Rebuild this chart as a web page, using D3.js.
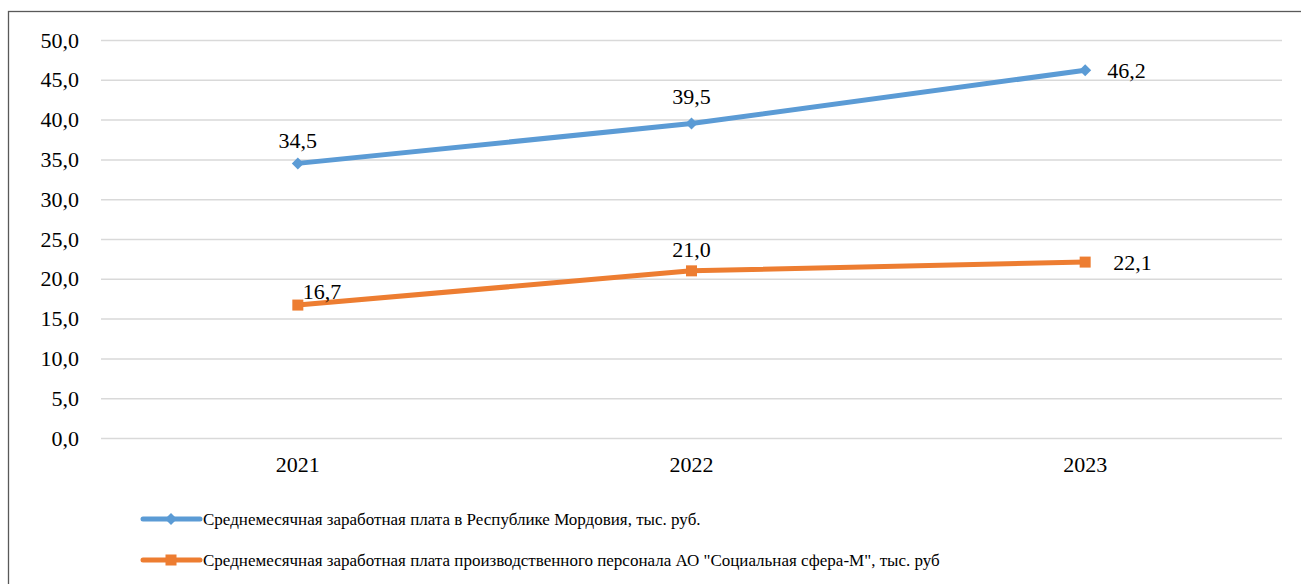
<!DOCTYPE html>
<html><head><meta charset="utf-8">
<script src="https://cdn.jsdelivr.net/npm/d3@7"></script>
</head><body style="margin:0"><svg id="c" width="1301" height="584" style="display:block"></svg>
<script>
const categories = ["2021", "2022", "2023"];
const seriesNames = [
  "Среднемесячная заработная плата в Республике Мордовия, тыс. руб.",
  "Среднемесячная заработная плата производственного персонала АО \"Социальная сфера-М\", тыс. руб"
];
const mordoviaValues = [34.5, 39.5, 46.2];
const staffValues = [16.7, 21.0, 22.1];
const yTicks = [0, 5, 10, 15, 20, 25, 30, 35, 40, 45, 50];

(function () {
const svg = d3.select("#c");
const FONT = "Liberation Serif";
const fmt = v => d3.format(".1f")(v).replace(".", ",");

svg.append("rect").attr("x", 8.5).attr("y", 11.5).attr("width", 1320).attr("height", 620)
  .attr("fill", "#fff").attr("stroke", "#595959").attr("stroke-width", 1.3);

const pLeft = 101, pRight = 1282, pTop = 40, pBottom = 438;
const x = d3.scaleBand().domain(categories).range([pLeft, pRight]);
const y = d3.scaleLinear().domain([0, 50]).range([pBottom, pTop]);

const gy = svg.append("g").attr("transform", `translate(${pLeft},0)`)
  .call(d3.axisLeft(y).tickValues(yTicks).tickSize(-(pRight - pLeft)).tickFormat(fmt).tickPadding(22));
gy.attr("font-family", FONT).attr("font-size", 22);
gy.select(".domain").remove();
gy.selectAll(".tick line").attr("stroke", "#d9d9d9").attr("stroke-width", 1.5);
gy.selectAll(".tick text").attr("fill", "#000");

const gx = svg.append("g").attr("transform", `translate(0,${pBottom})`)
  .call(d3.axisBottom(x).tickSize(0).tickPadding(18));
gx.attr("font-family", FONT).attr("font-size", 22);
gx.select(".domain").remove();
gx.selectAll(".tick text").attr("fill", "#000");

const cx = d => x(d) + x.bandwidth() / 2;
const series = [
  {name: seriesNames[0], values: mordoviaValues, color: "#5B9BD5", marker: "diamond",
   labelPos: [[0, -23, "middle"], [0, -27, "middle"], [22, 0, "start"]]},
  {name: seriesNames[1], values: staffValues, color: "#ED7D31", marker: "square",
   labelPos: [[5, -14, "start"], [0, -22, "middle"], [28, 0, "start"]]}
];
const line = d3.line().x((d, i) => cx(categories[i])).y(d => y(d));

function drawMarker(g, type, px, py, color) {
  if (type === "diamond") {
    g.append("path").attr("d", `M${px - 6},${py} L${px},${py - 6} L${px + 6},${py} L${px},${py + 6} Z`).attr("fill", color);
  } else {
    g.append("rect").attr("x", px - 5.5).attr("y", py - 5.5).attr("width", 11).attr("height", 11).attr("fill", color);
  }
}

series.forEach(s => {
  svg.append("path").datum(s.values).attr("d", line).attr("fill", "none")
    .attr("stroke", s.color).attr("stroke-width", 5).attr("stroke-linejoin", "round");
  const g = svg.append("g");
  s.values.forEach((v, i) => drawMarker(g, s.marker, cx(categories[i]), y(v), s.color));
  s.values.forEach((v, i) => {
    const [dx, dy, anchor] = s.labelPos[i];
    svg.append("text").attr("x", cx(categories[i]) + dx).attr("y", y(v) + dy)
      .attr("dy", "0.35em").attr("text-anchor", anchor)
      .attr("font-family", FONT).attr("font-size", 22).attr("fill", "#000").text(fmt(v));
  });
});

const legendY = [519, 560];
series.forEach((s, i) => {
  const g = svg.append("g");
  g.append("line").attr("x1", 143).attr("x2", 200).attr("y1", legendY[i]).attr("y2", legendY[i])
    .attr("stroke", s.color).attr("stroke-width", 5).attr("stroke-linecap", "round");
  drawMarker(g, s.marker, 171, legendY[i], s.color);
  g.append("text").attr("x", 203).attr("y", legendY[i]).attr("dy", "0.35em")
    .attr("font-family", FONT).attr("font-size", 17).attr("fill", "#000").text(s.name);
});
})();
</script>
</body></html>
